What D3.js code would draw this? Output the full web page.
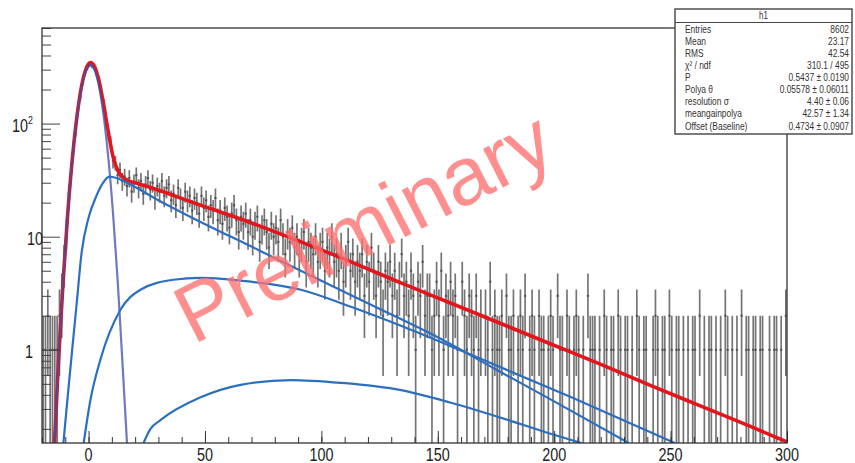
<!DOCTYPE html>
<html>
<head>
<meta charset="utf-8">
<script src="https://cdn.jsdelivr.net/npm/d3@7"></script>
<style>
  body { margin: 0; background: #fff; }
  svg { display: block; font-family: "Liberation Sans", Arial, Helvetica, sans-serif; }
</style>
</head>
<body>
<svg id="chart" width="855" height="463"></svg>
<script>
// histogram: 320 bins of width 1 from -20 to 300
const binLow = -20;
const binWidth = 1;
const counts = [
  1, 1, 2, 1, 1, 1, 1, 2, 3, 6, 11, 24, 36, 63, 86, 134, 171, 236, 281, 312,
  333, 326, 318, 279, 246, 183, 152, 104, 80, 69, 47, 45, 35, 39, 31, 34, 28, 33, 25, 30,
  35, 27, 31, 24, 29, 33, 26, 30, 22, 28, 25, 31, 23, 27, 29, 21, 24, 19, 27, 22,
  18, 25, 21, 23, 17, 22, 20, 16, 23, 18, 21, 15, 19, 17, 22, 14, 17, 13, 18, 15,
  12, 16, 19, 14, 11, 15, 13, 16, 11, 14, 10, 13, 15, 9, 12, 14, 11, 8, 13, 10,
  12, 9, 14, 10, 7, 11, 9, 12, 8, 10, 7, 9, 11, 6, 9, 8, 7, 10, 6, 8,
  9, 5, 8, 7, 10, 6, 7, 5, 8, 4, 6, 9, 5, 7, 4, 6, 5, 7, 3, 6,
  4, 8, 5, 3, 6, 4, 2, 5, 4, 6, 3, 5, 2, 4, 7, 3, 4, 2, 5, 3,
  1, 4, 3, 6, 2, 3, 3, 1, 2, 4, 2, 5, 1, 3, 2, 4, 2, 3, 1, 0,
  4, 2, 1, 3, 2, 1, 3, 1, 2, 0, 2, 1, 4, 1, 2, 1, 1, 2, 0, 3,
  1, 1, 2, 0, 1, 2, 1, 3, 0, 1, 2, 1, 0, 2, 1, 1, 0, 1, 2, 1,
  0, 3, 1, 1, 0, 2, 1, 0, 1, 2, 1, 0, 1, 0, 3, 1, 1, 1, 0, 1,
  0, 2, 1, 0, 1, 1, 0, 2, 1, 0, 1, 1, 0, 1, 0, 2, 1, 0, 1, 1,
  0, 0, 1, 2, 1, 0, 1, 1, 0, 2, 1, 0, 1, 1, 0, 1, 0, 1, 0, 1,
  1, 0, 2, 0, 1, 0, 1, 1, 0, 1, 0, 1, 0, 2, 1, 0, 1, 0, 1, 0,
  2, 0, 1, 1, 0, 1, 1, 0, 1, 1, 0, 0, 1, 0, 1, 1, 0, 1, 0, 2
];

// fit curves, [x, y] points
const totalFit = [[-14.6, 0.15], [-13, 0.74], [-11, 3.8], [-9, 15.5], [-7, 48], [-5, 115], [-3, 215],
  [-1, 308], [0.8, 346], [2.5, 321], [4.5, 238], [6.5, 147], [8.5, 84], [10.5, 51], [12.5, 38.6],
  [14.5, 34], [15.8, 32], [20, 30], [26.6, 27.2], [48.1, 19.0], [69.7, 13.3], [91.2, 9.0],
  [112.7, 6.0], [134.2, 3.9], [155.7, 2.58], [177.3, 1.70], [198.8, 1.12], [220.3, 0.74],
  [241.8, 0.48], [263.3, 0.316], [284.8, 0.208], [300, 0.153]];
const pedestal = [[-14.7, 0.15], [-13, 0.72], [-11, 3.8], [-9, 15.2], [-7, 47], [-5, 112], [-3, 208],
  [-1, 297], [0.8, 330], [2.5, 301], [4.5, 213], [6.5, 116], [8.5, 49.5], [10.5, 16.2],
  [12.5, 4.1], [14.5, 0.81], [16.5, 0.15]];
const polya1 = [[-10.8, 0.15], [-9, 0.38], [-7, 1.02], [-5, 2.7], [-3, 7.2], [0, 14.7], [3, 22],
  [6, 29.5], [9, 34], [12, 33], [15, 31], [20, 27.5], [30, 21], [40, 16.4], [72.7, 7.67],
  [100, 4.07], [125.8, 2.26], [150, 1.29], [175, 0.67], [200, 0.35], [232, 0.15]];
const polya2 = [[-2.1, 0.15], [0.8, 0.36], [5.1, 0.82], [13.7, 2.26], [22.3, 3.4], [36.5, 4.16],
  [48.1, 4.33], [69.7, 4.0], [91.2, 3.4], [112.7, 2.4], [134.2, 1.63], [161.3, 0.96],
  [207.4, 0.38], [251.8, 0.15]];
const polya3 = [[23.6, 0.15], [26.6, 0.2], [31, 0.24], [48.1, 0.38], [65.3, 0.49], [86.9, 0.54],
  [108.4, 0.51], [134.2, 0.44], [155.7, 0.34], [177.3, 0.25], [198.8, 0.18], [211.7, 0.15]];

const xTicks = [0, 50, 100, 150, 200, 250, 300];
const yLabels = [{ v: 100, t: '10', sup: '2' }, { v: 10, t: '10', sup: '' }, { v: 1, t: '1', sup: '' }];

const statsTitle = 'h1';
const statsRows = [
  ['Entries', '8602'],
  ['Mean', '23.17'],
  ['RMS', '42.54'],
  ['\u03c7\u00b2 / ndf', '310.1 / 495'],
  ['P', '0.5437 \u00b1 0.0190'],
  ['Polya \u03b8', '0.05578 \u00b1 0.06011'],
  ['resolution \u03c3', '4.40 \u00b1 0.06'],
  ['meangainpolya', '42.57 \u00b1 1.34'],
  ['Offset (Baseline)', '0.4734 \u00b1 0.0907']
];

const frame = { left: 42, right: 787, top: 28, bottom: 443 };
const squish = 0.8;

const svg = d3.select('#chart');

const x = d3.scaleLinear()
  .domain([-20, 300])
  .range([frame.left, frame.right]);

const y = d3.scaleLog()
  .domain([0.15, 700])
  .range([frame.bottom, frame.top]);

svg.append('defs').append('clipPath')
  .attr('id', 'plot-clip')
  .append('rect')
  .attr('x', frame.left)
  .attr('y', frame.top)
  .attr('width', frame.right - frame.left)
  .attr('height', frame.bottom - frame.top);

const plot = svg.append('g').attr('clip-path', 'url(#plot-clip)');

// histogram with poisson error bars
const bins = counts.map((n, i) => ({
  lo: binLow + i * binWidth,
  hi: binLow + (i + 1) * binWidth,
  n
})).filter(d => d.n > 0);

const hist = plot.append('g')
  .attr('stroke', '#404040')
  .attr('stroke-opacity', 0.72);

hist.selectAll('line.err')
  .data(bins)
  .join('line')
  .attr('class', 'err')
  .attr('stroke-width', 1.7)
  .attr('x1', d => x((d.lo + d.hi) / 2))
  .attr('x2', d => x((d.lo + d.hi) / 2))
  .attr('y1', d => y(Math.max(d.n - Math.sqrt(d.n), 0.15)))
  .attr('y2', d => y(d.n + Math.sqrt(d.n)));

hist.selectAll('line.wid')
  .data(bins)
  .join('line')
  .attr('class', 'wid')
  .attr('stroke-width', 2)
  .attr('x1', d => x(d.lo))
  .attr('x2', d => x(d.hi))
  .attr('y1', d => y(d.n))
  .attr('y2', d => y(d.n));

const line = d3.line()
  .x(d => x(d[0]))
  .y(d => y(d[1]))
  .curve(d3.curveMonotoneX);

plot.append('path')
  .datum(totalFit)
  .attr('fill', 'none')
  .attr('stroke', '#e3161d')
  .attr('stroke-width', 3.6)
  .attr('stroke-linejoin', 'round')
  .attr('d', line);

plot.selectAll('path.comp')
  .data([pedestal, polya1, polya2, polya3])
  .join('path')
  .attr('class', 'comp')
  .attr('fill', 'none')
  .attr('stroke', (d, i) => i === 0 ? '#3b4fa8' : '#2c6fc0')
  .attr('stroke-opacity', (d, i) => i === 0 ? 0.75 : 1)
  .attr('stroke-width', 2.2)
  .attr('d', line);

// axes
svg.append('g')
  .attr('transform', `translate(0,${frame.bottom})`)
  .call(d3.axisBottom(x).tickValues(d3.range(-20, 301, 10)).tickSize(-6).tickFormat(''))
  .call(g => g.select('.domain').remove())
  .call(g => g.selectAll('line').attr('stroke', '#333'));

svg.append('g')
  .attr('transform', `translate(0,${frame.bottom})`)
  .call(d3.axisBottom(x).tickValues(xTicks).tickSize(-12).tickFormat(''))
  .call(g => g.select('.domain').remove())
  .call(g => g.selectAll('line').attr('stroke', '#333'));

const minorY = [];
[0.1, 1, 10, 100].forEach(dec => {
  for (let k = 2; k <= 9; k++) {
    const v = dec * k;
    if (v >= 0.15 && v <= 700) minorY.push(v);
  }
});

svg.append('g')
  .attr('transform', `translate(${frame.left},0)`)
  .call(d3.axisLeft(y).tickValues(minorY).tickSize(-9).tickFormat(''))
  .call(g => g.select('.domain').remove())
  .call(g => g.selectAll('line').attr('stroke', '#444'));

svg.append('g')
  .attr('transform', `translate(${frame.left},0)`)
  .call(d3.axisLeft(y).tickValues(yLabels.map(d => d.v)).tickSize(-18).tickFormat(''))
  .call(g => g.select('.domain').remove())
  .call(g => g.selectAll('line').attr('stroke', '#444'));

// frame
svg.append('rect')
  .attr('x', frame.left)
  .attr('y', frame.top)
  .attr('width', frame.right - frame.left)
  .attr('height', frame.bottom - frame.top)
  .attr('fill', 'none')
  .attr('stroke', '#333')
  .attr('stroke-width', 1.3);

// tick labels
svg.append('g')
  .selectAll('text')
  .data(xTicks)
  .join('text')
  .attr('transform', d => `translate(${x(d)},461) scale(${squish},1)`)
  .attr('text-anchor', 'middle')
  .attr('font-size', 18)
  .attr('fill', '#222')
  .text(d => d);

const yl = svg.append('g')
  .selectAll('text')
  .data(yLabels)
  .join('text')
  .attr('transform', d => `translate(${d.sup ? 33 : (d.v === 10 ? 43 : 33)},${y(d.v) + 8}) scale(${squish},1)`)
  .attr('text-anchor', 'end')
  .attr('font-size', 18)
  .attr('fill', '#222');
yl.append('tspan').text(d => d.t);
yl.append('tspan')
  .attr('font-size', 11)
  .attr('dy', -8)
  .text(d => d.sup);

// stats box
const box = { x: 675, y: 9, w: 177, h: 125 };
const stats = svg.append('g');
stats.append('rect')
  .attr('x', box.x)
  .attr('y', box.y)
  .attr('width', box.w)
  .attr('height', box.h)
  .attr('fill', '#fff')
  .attr('stroke', '#444')
  .attr('stroke-width', 1.4);
stats.append('line')
  .attr('x1', box.x)
  .attr('x2', box.x + box.w)
  .attr('y1', 22.5)
  .attr('y2', 22.5)
  .attr('stroke', '#444');
stats.append('text')
  .attr('transform', `translate(${box.x + box.w / 2},19) scale(${squish},1)`)
  .attr('text-anchor', 'middle')
  .attr('font-size', 10)
  .attr('fill', '#333')
  .text(statsTitle);

const rowY = d3.scaleLinear().domain([0, statsRows.length - 1]).range([33, 129.5]);
stats.selectAll('text.lab')
  .data(statsRows)
  .join('text')
  .attr('class', 'lab')
  .attr('transform', (d, i) => `translate(685,${rowY(i)}) scale(${squish},1)`)
  .attr('font-size', 10.5)
  .attr('fill', '#333')
  .text(d => d[0]);
stats.selectAll('text.val')
  .data(statsRows)
  .join('text')
  .attr('class', 'val')
  .attr('transform', (d, i) => `translate(849,${rowY(i)}) scale(${squish},1)`)
  .attr('text-anchor', 'end')
  .attr('font-size', 10.5)
  .attr('fill', '#333')
  .text(d => d[1]);

// watermark
svg.append('text')
  .attr('transform', 'translate(376,252) rotate(-27)')
  .attr('text-anchor', 'middle')
  .attr('font-size', 82)
  .attr('fill', '#ff7070')
  .attr('fill-opacity', 0.78)
  .text('Preliminary');
</script>
</body>
</html>
